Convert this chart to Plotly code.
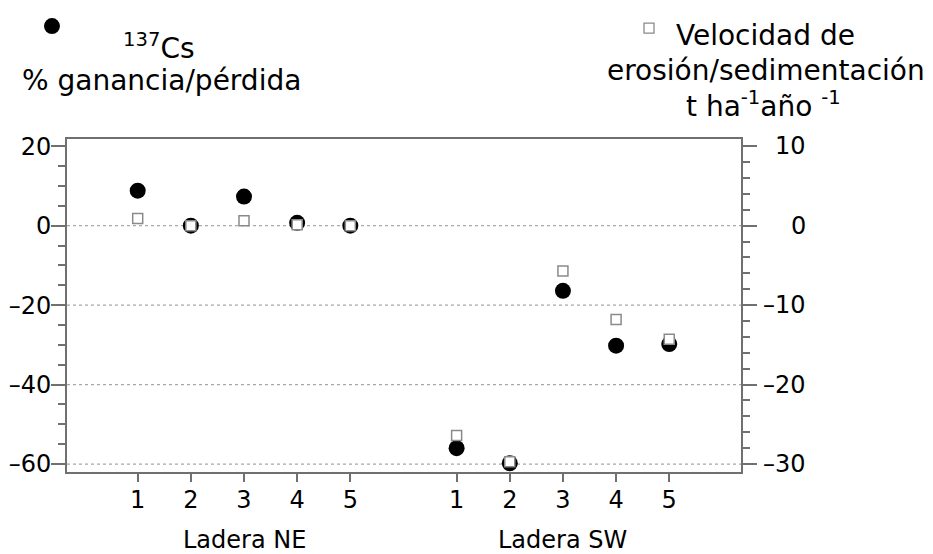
import plotly.graph_objects as go

# ---- data ----
slopes = ["Ladera NE", "Ladera SW"]
points = [1, 2, 3, 4, 5]
cs137_NE = [8.8, 0.0, 7.3, 0.7, 0.0]          # % ganancia/pérdida
cs137_SW = [-56.0, -59.8, -16.4, -30.2, -29.8]
rate_NE = [0.9, 0.0, 0.6, 0.1, 0.0]           # t ha-1 año-1
rate_SW = [-26.4, -29.7, -5.7, -11.8, -14.3]
left_ticks = [20, 0, -20, -40, -60]
right_ticks = [10, 0, -10, -20, -30]
grid_vals = [0, -20, -40, -60]

GROUP_STEP = 6
x_NE = [p for p in points]
x_SW = [p + GROUP_STEP for p in points]
x_all = x_NE + x_SW
tick_text = [str(p) for p in points] * 2
group_centers = [sum(x_NE) / len(x_NE), sum(x_SW) / len(x_SW)]


def fmt(v):
    return str(v).replace("-", "\u2013")


FONT = "DejaVu Sans"
AX = "#707070"

fig = go.Figure()
fig.add_trace(go.Scatter(
    x=x_all, y=cs137_NE + cs137_SW, mode="markers", yaxis="y",
    marker=dict(symbol="circle", size=16, color="black", line=dict(width=0)),
    showlegend=False, name="137Cs"))
fig.add_trace(go.Scatter(
    x=x_all, y=rate_NE + rate_SW, mode="markers", yaxis="y2",
    marker=dict(symbol="square", size=10, color="white",
                line=dict(color="#8a8a8a", width=1.5)),
    showlegend=False, name="Velocidad"))

LRANGE = [-62.0, 21.8]
RRANGE = [LRANGE[0] / 2, LRANGE[1] / 2]

shapes = []
for v in grid_vals:
    shapes.append(dict(type="line", xref="paper", yref="y", x0=0, x1=1, y0=v, y1=v,
                       line=dict(color="#a8a8a8", width=1.2, dash="dot"), layer="below"))
# legend symbols
shapes.append(dict(type="circle", xref="paper", yref="paper", xsizemode="pixel", ysizemode="pixel",
                   xanchor=-0.0223, yanchor=1.339, x0=-8, x1=8, y0=-8, y1=8,
                   fillcolor="black", line=dict(width=0)))
shapes.append(dict(type="rect", xref="paper", yref="paper", xsizemode="pixel", ysizemode="pixel",
                   xanchor=0.8635, yanchor=1.333, x0=-5, x1=5, y0=-5, y1=5,
                   fillcolor="white", line=dict(color="#8a8a8a", width=1.3)))

ann = []
tf = dict(family=FONT, size=28, color="black")
ann.append(dict(xref="paper", yref="paper", x=0.137, y=1.279, text="<sup>137</sup>Cs",
                showarrow=False, font=tf, xanchor="center", yanchor="middle"))
ann.append(dict(xref="paper", yref="paper", x=0.140, y=1.177, text="% ganancia/pérdida",
                showarrow=False, font=tf, xanchor="center", yanchor="middle"))
ann.append(dict(xref="paper", yref="paper", x=1.037, y=1.312, text="Velocidad de",
                showarrow=False, font=tf, xanchor="center", yanchor="middle"))
ann.append(dict(xref="paper", yref="paper", x=1.037, y=1.207, text="erosión/sedimentación",
                showarrow=False, font=tf, xanchor="center", yanchor="middle"))
ann.append(dict(xref="paper", yref="paper", x=1.033, y=1.105,
                text="t ha<sup>-1</sup>año <sup>-1</sup>",
                showarrow=False, font=tf, xanchor="center", yanchor="middle"))
for v in right_ticks:
    ann.append(dict(xref="paper", yref="y2", x=1.0994, y=v, text=fmt(v),
                    showarrow=False, font=dict(family=FONT, size=24, color="black"),
                    xanchor="right", yanchor="middle"))
for name, c in zip(slopes, group_centers):
    ann.append(dict(xref="x", yref="paper", x=c, y=-0.205, text=name, showarrow=False,
                    font=dict(family=FONT, size=24, color="black"),
                    xanchor="center", yanchor="middle"))

# page body has an 8px margin: shrink figure and shift margins to compensate
fig.update_layout(
    width=925, height=546,
    margin=dict(l=59, r=192, t=131, b=82, autoexpand=False),
    paper_bgcolor="white", plot_bgcolor="white",
    font=dict(family=FONT, size=24, color="black"),
    shapes=shapes, annotations=ann,
    xaxis=dict(range=[-0.33, 12.35], tickvals=x_all, ticktext=tick_text, automargin=False,
               ticks="outside", ticklen=8, tickwidth=1.5, tickcolor=AX,
               ticklabelstandoff=-3,
               showline=True, linecolor=AX, linewidth=2, mirror=True,
               showgrid=False, zeroline=False,
               tickfont=dict(family=FONT, size=24, color="black")),
    yaxis=dict(range=LRANGE, tickvals=left_ticks, ticktext=[fmt(v) for v in left_ticks],
               automargin=False, ticklabelstandoff=-5,
               ticks="outside", ticklen=14, tickwidth=1.5, tickcolor=AX,
               minor=dict(dtick=5, tick0=0, ticks="outside", ticklen=7, tickwidth=1.5,
                          tickcolor=AX, showgrid=False),
               showline=True, linecolor=AX, linewidth=2,
               showgrid=False, zeroline=False,
               tickfont=dict(family=FONT, size=24, color="black")),
    yaxis2=dict(range=RRANGE, overlaying="y", side="right", tickvals=right_ticks,
                automargin=False,
                ticks="outside", ticklen=14, tickwidth=1.5, tickcolor=AX,
                minor=dict(dtick=2, tick0=0, ticks="outside", ticklen=7, tickwidth=1.5,
                           tickcolor=AX, showgrid=False),
                showline=True, linecolor=AX, linewidth=2,
                showgrid=False, zeroline=False, showticklabels=False),
)

fig.write_html("out.html")
